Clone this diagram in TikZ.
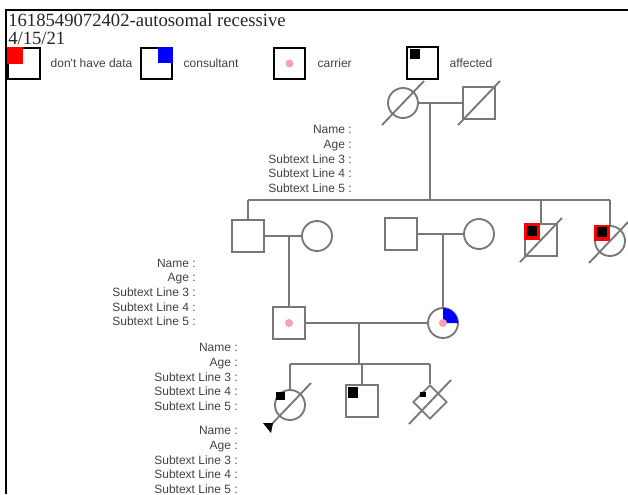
\documentclass[tikz,border=0pt]{standalone}
\usepackage{fontspec}
\setmainfont{Liberation Serif}
\setsansfont{Liberation Sans}
\usetikzlibrary{arrows.meta,calc,positioning,shapes.geometric}
\definecolor{pedgray}{RGB}{120,120,120}
\definecolor{pedpink}{RGB}{240,165,175}
\definecolor{txtgray}{RGB}{65,65,65}
\newcommand{\pedsubtext}{Name :\\Age :\\Subtext Line 3 :\\Subtext Line 4 :\\Subtext Line 5 :}

\begin{document}
\begin{tikzpicture}[x=.75pt,y=-.75pt,
    lgbox/.style={draw=black,line width=1.5pt,inner sep=0pt,minimum size=23.5pt},
    male/.style={draw=pedgray,line width=1.4pt,inner sep=0pt,minimum size=23.5pt},
    female/.style={circle,draw=pedgray,line width=1.4pt,inner sep=0pt,minimum size=22.5pt},
    unknown/.style={diamond,aspect=1,draw=pedgray,line width=1.4pt,inner sep=0pt,minimum width=25.5pt,minimum height=25.5pt},
    pedline/.style={draw=pedgray,line width=1.4pt},
    lgtext/.style={anchor=west,font=\sffamily\fontsize{9}{11}\selectfont,text=txtgray},
    subtext/.style={anchor=east,align=right,inner sep=0pt,font=\sffamily\fontsize{9}{10.95}\selectfont,text=txtgray}]
    \useasboundingbox (0,0) rectangle (628,494);
    \draw[line width=1.5pt] (6,494)--(6,10)--(628,10);
    \node[anchor=base west,inner sep=0pt,font=\fontsize{14}{14}\selectfont,text=black!85] (title) at (8,26) {1618549072402-autosomal recessive};
    \node[anchor=base west,inner sep=0pt,font=\fontsize{14}{14}\selectfont,text=black!85] (date) at (8,44) {4/15/21};
    \node[lgbox] (lgnodata) at (24,63.5) {}; \node[lgtext] (tnodata) at (46,63) {don\textquotesingle t have data};
    \node[lgbox] (lgcons) at (156.5,63.5) {}; \node[lgtext] (tcons) at (179,63) {consultant};
    \node[lgbox] (lgcarr) at (289.5,63.5) {}; \node[lgtext] (tcarr) at (313,63) {carrier};
    \node[lgbox] (lgaff) at (422.5,63) {}; \node[lgtext] (taff) at (445,63) {affected};
    \fill[red] (lgnodata.north west) rectangle ++(16,17);
    \fill[blue] (lgcons.north east) rectangle ++(-15,16);
    \fill[pedpink] (lgcarr) circle[radius=4];
    \fill ([shift={(4,3)}]lgaff.north west) rectangle ++(10,10);
    \node[female] (gIa) at (403,103) {};
    \node[male] (gIb) at (479,103) {};
    \node[male] (gIIa) at (248,236) {};
    \node[female] (gIIb) at (317,236) {};
    \node[male] (gIIc) at (401,234) {};
    \node[female] (gIId) at (479,234) {};
    \node[male] (gIIe) at (541,240) {};
    \node[female] (gIIf) at (610,241) {};
    \node[male] (gIIIa) at (289,323) {};
    \node[female] (gIIIb) at (443,323) {};
    \node[female] (gIVa) at (290,405) {};
    \node[male] (gIVb) at (362,401) {};
    \node[unknown] (gIVc) at (430,402) {};
    \coordinate (mI) at (430,103); \coordinate (sII) at (430,200);
    \coordinate (mIII) at (359,323); \coordinate (sIV) at (359,364);
    \draw[pedline] (gIa)--(gIb);
    \draw[pedline] (mI)--(sII);
    \draw[pedline] (gIIa |- sII)--(gIIf |- sII);
    \foreach \n in {gIIa,gIIe,gIIf}{\draw[pedline] (\n |- sII)--(\n.north);}
    \draw[pedline] (gIIa)--(gIIb);
    \draw[pedline] (gIIc)--(gIId);
    \draw[pedline] (gIIIa |- gIIa)--(gIIIa.north);
    \draw[pedline] (gIIIb |- gIIc)--(gIIIb.north);
    \draw[pedline] (gIIIa)--(gIIIb);
    \draw[pedline] (mIII)--(sIV);
    \draw[pedline] (gIVa |- sIV)--(gIVc |- sIV);
    \foreach \n in {gIVa,gIVb,gIVc}{\draw[pedline] (\n |- sIV)--(\n.north);}
    \fill[red] (gIIe.north west) rectangle ++(16,17);
    \fill ([shift={(3,3)}]gIIe.north west) rectangle ++(10,10);
    \fill[red] ($(gIIf)+(-16,-16)$) rectangle (gIIf);
    \fill ($(gIIf)+(-13,-14)$) rectangle ++(10,10);
    \fill[blue] (gIIIb.center)--++(0,-15) arc[start angle=-90,end angle=0,radius=15]--cycle;
    \fill[pedpink] (gIIIa) circle[radius=4];
    \fill[pedpink] (gIIIb) circle[radius=4];
    \fill ($(gIVa)+(-14,-13)$) rectangle ++(9,8);
    \fill ($(gIVb)+(-14,-14)$) rectangle ++(10,11);
    \fill ($(gIVc)+(-10,-10)$) rectangle ++(6,5);
    \foreach \n in {gIa,gIb,gIIe,gIIf,gIVa,gIVc}{\draw[pedline] ($(\n)+(-21,22)$)--($(\n)+(21,-22)$);}
    \fill ($(gIVa)+(-17,18)$)--($(gIVa)+(-27,18)$)--($(gIVa)+(-19,28)$)--cycle;
    \node[subtext] (txtI) at (352,159) {\pedsubtext};
    \node[subtext] (txtII) at (196,292.5) {\pedsubtext};
    \node[subtext] (txtIII) at (238,377) {\pedsubtext};
    \node[subtext] (txtIV) at (238,460) {\pedsubtext};
\end{tikzpicture}
\end{document}
